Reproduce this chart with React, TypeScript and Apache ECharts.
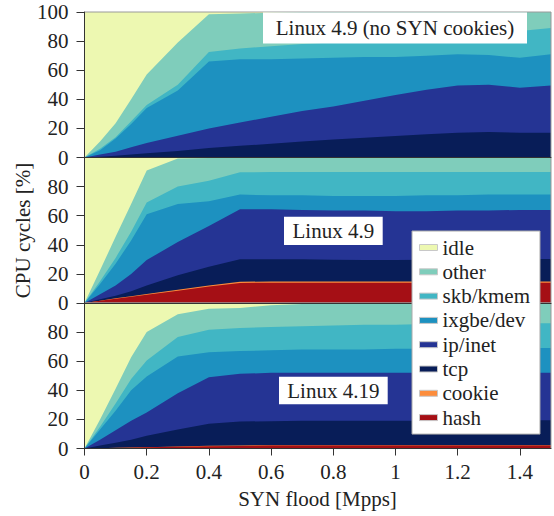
import React, { useEffect, useRef } from "react";
import * as echarts from "echarts";

const FONT = '"Liberation Serif", "DejaVu Serif", serif';
const TEXT = "#222222";

// x positions (SYN flood, Mpps)
const xs = [0, 0.05, 0.1, 0.15, 0.2, 0.3, 0.4, 0.5, 0.6, 0.7, 0.8, 0.9, 1.0, 1.1, 1.2, 1.3, 1.4, 1.5];
const xTicks = [0, 0.2, 0.4, 0.6, 0.8, 1, 1.2, 1.4];

// stack order bottom -> top
const layers = ["hash", "cookie", "tcp", "ip/inet", "ixgbe/dev", "skb/kmem", "other", "idle"];
const legendOrder = ["idle", "other", "skb/kmem", "ixgbe/dev", "ip/inet", "tcp", "cookie", "hash"];
const layerColors = ["#a50f15", "#fd8d3c", "#081d58", "#253494", "#1d91c0", "#41b6c4", "#7fcdbb", "#edf8b1"];

// Panel 1: Linux 4.9 (no SYN cookies)
const p1Hash = [0, 0, 0, 0, 0, 0, 0, 0, 0, 0, 0, 0, 0, 0, 0, 0, 0, 0];
const p1Cookie = [0, 0, 0, 0, 0, 0, 0, 0, 0, 0, 0, 0, 0, 0, 0, 0, 0, 0];
const p1Tcp = [0, 0.5, 1.2, 2, 3, 4.5, 6.5, 8, 9.5, 11, 12.3, 13.5, 14.8, 16, 17, 17.5, 17, 17];
const p1Ip = [0, 1.5, 2.8, 5, 7, 10.5, 13.5, 16, 18.5, 21, 22.7, 25.5, 28.2, 30.5, 32.5, 32.5, 31, 32.5];
const p1Ixgbe = [0, 3, 9, 16, 24, 31, 46, 43.5, 39.5, 36, 33.5, 30, 26, 23.5, 21.5, 20.5, 20.5, 21.5];
const p1Skb = [0, 1, 1, 2, 2, 4, 6.5, 7.5, 9, 10, 10.5, 11, 12.5, 13, 13.5, 15.5, 18.5, 18];
const p1Other = [0, 5, 9.5, 15, 21, 29, 26, 24, 23, 22, 21, 20, 18.5, 17, 15.5, 14, 13, 11];
const p1Idle = [100, 89, 76.5, 60, 43, 21, 1.5, 1, 0.5, 0, 0, 0, 0, 0, 0, 0, 0, 0];

// Panel 2: Linux 4.9
const p2Hash = [0, 1.5, 3, 4.3, 5.7, 8.5, 11.3, 13.8, 14, 14, 14, 14, 14, 14, 14, 14, 14, 14];
const p2Cookie = [0, 0.1, 0.2, 0.3, 0.4, 0.6, 0.7, 0.8, 0.8, 0.8, 0.8, 0.8, 0.8, 0.8, 0.8, 0.8, 0.8, 0.8];
const p2Tcp = [0, 0.9, 1.8, 3.4, 5.9, 9.9, 13, 15.4, 15.2, 15.2, 15, 14.8, 14.8, 15, 15.2, 15.2, 15.4, 15.5];
const p2Ip = [0, 3.5, 7, 12, 17.5, 23, 28, 34.5, 34.5, 34, 33.7, 33.9, 33.4, 33.2, 33.5, 33.5, 33.8, 33.7];
const p2Ixgbe = [0, 7, 15, 23, 31.5, 26, 17, 10, 9.5, 10, 10, 10, 10.5, 11, 10.5, 11, 10.5, 10.5];
const p2Skb = [0, 2, 4, 6, 8, 12, 14, 15.3, 16, 16, 16.5, 16.5, 16.5, 16, 16, 15.5, 15.5, 15.5];
const p2Other = [0, 7.5, 14.5, 19, 22, 19.3, 15.7, 10.2, 10, 10, 10, 10, 10, 10, 10, 10, 10, 10];
const p2Idle = [100, 77.5, 54.5, 32, 9, 0.7, 0.3, 0, 0, 0, 0, 0, 0, 0, 0, 0, 0, 0];

// Panel 3: Linux 4.19
const p3Hash = [0, 0.2, 0.4, 0.6, 0.8, 1.2, 1.6, 1.8, 2, 2, 2, 2, 2, 2, 2, 2, 2, 2];
const p3Cookie = [0, 0, 0.1, 0.1, 0.1, 0.2, 0.3, 0.3, 0.3, 0.3, 0.3, 0.3, 0.3, 0.3, 0.3, 0.3, 0.3, 0.3];
const p3Tcp = [0, 1.8, 3.5, 5.3, 7.8, 11.6, 15.1, 16.4, 16.5, 16.7, 16.7, 16.7, 16.7, 16.7, 16.9, 17, 17.1, 17.2];
const p3Ip = [0, 4, 8.5, 13, 16.1, 25, 32, 32.8, 33.2, 33, 33, 33, 33, 33, 32.8, 32.7, 32.6, 32.5];
const p3Ixgbe = [0, 7, 13.5, 21, 24.6, 25.2, 17.2, 15.7, 15.5, 16, 16, 16, 16.5, 16.5, 16.5, 17, 17, 17];
const p3Skb = [0, 2, 5, 7.8, 11.1, 13.4, 15.4, 15.8, 16, 16, 16.5, 17, 16.5, 17, 17, 17, 17, 17];
const p3Other = [0, 5, 10, 15, 19.5, 15.6, 14.4, 13.7, 15, 15.3, 15.3, 15, 15, 14.5, 14.5, 14, 14, 14];
const p3Idle = [100, 80, 59, 37.2, 20, 7.8, 4, 3.5, 1.5, 0.7, 0.2, 0, 0, 0, 0, 0, 0, 0];

const panels = [
  [p1Hash, p1Cookie, p1Tcp, p1Ip, p1Ixgbe, p1Skb, p1Other, p1Idle],
  [p2Hash, p2Cookie, p2Tcp, p2Ip, p2Ixgbe, p2Skb, p2Other, p2Idle],
  [p3Hash, p3Cookie, p3Tcp, p3Ip, p3Ixgbe, p3Skb, p3Other, p3Idle],
];
const panelTitles = ["Linux 4.9 (no SYN cookies)", "Linux 4.9", "Linux 4.19"];

export default function App() {
  const ref = useRef<HTMLDivElement>(null);

  useEffect(() => {
    if (!ref.current) return;
    const chart = echarts.init(ref.current, undefined, { renderer: "svg" });

    const L = 84.5;
    const W = 466.5;
    const tops = [12, 157.5, 303];
    const H = 145.5;

    const grids = tops.map((t) => ({ left: L, width: W, top: t, height: H }));

    const xAxes = tops.map((_, p) => ({
      type: "value",
      gridIndex: p,
      min: 0,
      max: 1.5,
      z: 10,
      axisLine: { show: true, onZero: false, lineStyle: { color: "#333", width: 1 } },
      axisTick:
        p === 2
          ? { show: true, customValues: xTicks, length: 7, lineStyle: { color: "#333" } }
          : { show: false },
      axisLabel:
        p === 2
          ? {
              show: true,
              customValues: xTicks,
              margin: 13,
              fontFamily: FONT,
              fontSize: 21,
              color: TEXT,
              formatter: (v: number) => String(v),
            }
          : { show: false },
      splitLine: { show: false },
    }));

    const yAxes = tops.map((_, p) => ({
      type: "value",
      gridIndex: p,
      min: 0,
      max: 100,
      interval: 20,
      z: 10,
      axisLine: { show: true, lineStyle: { color: "#333", width: 1 } },
      axisTick: { show: true, length: 8, lineStyle: { color: "#333" } },
      axisLabel: {
        show: true,
        margin: 16,
        fontFamily: FONT,
        fontSize: 21,
        color: TEXT,
        showMaxLabel: p === 0,
      },
      splitLine: { show: false },
    }));

    // Manual stacking: cumulative tops, painted from the top layer down.
    const series: any[] = [];
    panels.forEach((vals, p) => {
      const cum: number[][] = [];
      vals.forEach((arr, k) => {
        cum.push(arr.map((v, i) => Math.round(((k > 0 ? cum[k - 1][i] : 0) + v) * 1000) / 1000));
      });
      for (let k = vals.length - 1; k >= 0; k--) {
        series.push({
          type: "line",
          name: layers[k],
          xAxisIndex: p,
          yAxisIndex: p,
          data: xs.map((x, i) => [x, cum[k][i]]),
          symbol: "none",
          showSymbol: false,
          silent: true,
          z: 2 + (vals.length - k) * 0.01,
          lineStyle: { width: 0, color: layerColors[k] },
          itemStyle: { color: layerColors[k] },
          areaStyle: { color: layerColors[k], opacity: 1, origin: "start" },
        });
      }
    });

    const graphics: any[] = [];
    tops.forEach((t) => {
      graphics.push({
        type: "rect",
        z: 5,
        silent: true,
        shape: { x: L, y: t, width: W, height: H },
        style: { fill: "none", stroke: "#9a9a9a", lineWidth: 1 },
      });
    });
    const boxes = [
      { x: 263, y: 12.5, w: 264, h: 31 },
      { x: 284, y: 216.7, w: 98.7, h: 28.3 },
      { x: 279, y: 376.7, w: 108.7, h: 27.6 },
    ];
    boxes.forEach((b, i) => {
      graphics.push({
        type: "rect",
        z: 20,
        silent: true,
        shape: { x: b.x, y: b.y, width: b.w, height: b.h },
        style: { fill: "#ffffff" },
      });
      graphics.push({
        type: "text",
        z: 21,
        silent: true,
        x: b.x + b.w / 2,
        y: b.y + b.h / 2,
        style: {
          text: panelTitles[i],
          fontFamily: FONT,
          fontSize: 21,
          fill: TEXT,
          align: "center",
          verticalAlign: "middle",
        },
      });
    });
    graphics.push({
      type: "text",
      z: 21,
      silent: true,
      x: 23,
      y: 230.5,
      rotation: Math.PI / 2,
      style: {
        text: "CPU cycles [%]",
        fontFamily: FONT,
        fontSize: 21,
        fill: TEXT,
        align: "center",
        verticalAlign: "middle",
      },
    });
    graphics.push({
      type: "text",
      z: 21,
      silent: true,
      x: 317.5,
      y: 499,
      style: {
        text: "SYN flood [Mpps]",
        fontFamily: FONT,
        fontSize: 21,
        fill: TEXT,
        align: "center",
        verticalAlign: "middle",
      },
    });

    chart.setOption({
      animation: false,
      backgroundColor: "#ffffff",
      grid: grids,
      xAxis: xAxes,
      yAxis: yAxes,
      series,
      graphic: graphics,
      legend: {
        data: legendOrder,
        orient: "vertical",
        left: 412,
        top: 231,
        icon: "rect",
        itemWidth: 18,
        itemHeight: 6,
        itemGap: 0.3,
        padding: [4.5, 10, 4.5, 7],
        backgroundColor: "#ffffff",
        borderColor: "#aaaaaa",
        borderWidth: 1,
        selectedMode: false,
        z: 30,
        itemStyle: { borderColor: "#c8c8c8", borderWidth: 1 },
        textStyle: { fontFamily: FONT, fontSize: 21, color: TEXT, lineHeight: 24 },
      },
    });

    return () => chart.dispose();
  }, []);

  return (
    <div
      ref={ref}
      style={{ position: "fixed", left: 0, top: 0, width: 554, height: 516, background: "#fff" }}
    />
  );
}
